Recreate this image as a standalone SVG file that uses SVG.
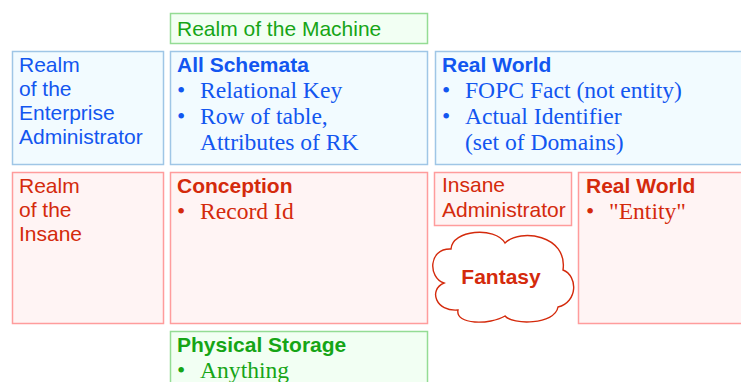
<svg xmlns="http://www.w3.org/2000/svg" width="741" height="382" viewBox="0 0 741 382">
<style>
.bg{fill:#ffffff}
.blue{fill:#f2fbff;stroke:#9fc6e6;stroke-width:1.5}
.red{fill:#fff4f4;stroke:#ff9c9c;stroke-width:1.5}
.green{fill:#f2fff3;stroke:#94dc94;stroke-width:1.5}
.sans{font-family:"Liberation Sans",Arial,sans-serif;font-size:21px}
.bold{font-family:"Liberation Sans",Arial,sans-serif;font-size:21px;font-weight:bold}
.serif{font-family:"Liberation Serif","Times New Roman",serif;font-size:23.6px}
.tb{fill:#1256f0}
.tr{fill:#d42a0c}
.tg{fill:#16a516}
</style>
<rect class="bg" x="0" y="0" width="741" height="382"/>
<g id="machine">
<rect class="green" x="170.5" y="13.5" width="257" height="30"/>
<text class="sans tg" x="177" y="36">Realm of the Machine</text>
</g>
<g id="enterprise-admin">
<rect class="blue" x="12.5" y="51.5" width="151" height="113"/>
<text class="sans tb" x="19" y="72">Realm</text>
<text class="sans tb" x="19" y="96">of the</text>
<text class="sans tb" x="19" y="120">Enterprise</text>
<text class="sans tb" x="19" y="144">Administrator</text>
</g>
<g id="all-schemata">
<rect class="blue" x="170.5" y="51.5" width="257" height="113"/>
<text class="bold tb" x="177" y="72">All Schemata</text>
<text class="serif tb" x="177" y="98">•</text>
<text class="serif tb" x="200" y="98">Relational Key</text>
<text class="serif tb" x="177" y="124">•</text>
<text class="serif tb" x="200" y="124">Row of table,</text>
<text class="serif tb" x="200" y="150">Attributes of RK</text>
</g>
<g id="real-world-blue">
<rect class="blue" x="435.5" y="51.5" width="320" height="113"/>
<text class="bold tb" x="442" y="72">Real World</text>
<text class="serif tb" x="442" y="98">•</text>
<text class="serif tb" x="465" y="98">FOPC Fact (not entity)</text>
<text class="serif tb" x="442" y="124">•</text>
<text class="serif tb" x="465" y="124">Actual Identifier</text>
<text class="serif tb" x="465" y="150">(set of Domains)</text>
</g>
<g id="insane">
<rect class="red" x="12.5" y="172.5" width="151" height="151"/>
<text class="sans tr" x="19" y="193">Realm</text>
<text class="sans tr" x="19" y="217">of the</text>
<text class="sans tr" x="19" y="241">Insane</text>
</g>
<g id="conception">
<rect class="red" x="170.5" y="172.5" width="257" height="151"/>
<text class="bold tr" x="177" y="193">Conception</text>
<text class="serif tr" x="177" y="219">•</text>
<text class="serif tr" x="200" y="219">Record Id</text>
</g>
<g id="insane-admin">
<rect class="red" x="434.5" y="172.5" width="137" height="53"/>
<text class="sans tr" x="442" y="192">Insane</text>
<text class="sans tr" x="442" y="217">Administrator</text>
</g>
<g id="real-world-red">
<rect class="red" x="578.5" y="172.5" width="180" height="151"/>
<text class="bold tr" x="586" y="193">Real World</text>
<text class="serif tr" x="586" y="219">•</text>
<text class="serif tr" x="609" y="219">"Entity"</text>
</g>
<g id="fantasy">
<path d="M 444 283 C 428 278, 428 248, 451 249 C 452 230, 495 226, 505 243 C 520 228, 568 235, 563 270 C 578 276, 578 302, 558 307 C 555 325, 512 325, 505 316 C 490 325, 455 325, 458 310 C 436 312, 428 290, 444 283 Z" fill="#ffffff" stroke="#d42a0c" stroke-width="1.4"/>
<text class="bold tr" x="501" y="284" text-anchor="middle">Fantasy</text>
</g>
<g id="physical-storage">
<rect class="green" x="170.5" y="331.5" width="257" height="60"/>
<text class="bold tg" x="177" y="352">Physical Storage</text>
<text class="serif tg" x="177" y="378">•</text>
<text class="serif tg" x="200" y="378">Anything</text>
</g>
<g id="connectors"></g>
</svg>
